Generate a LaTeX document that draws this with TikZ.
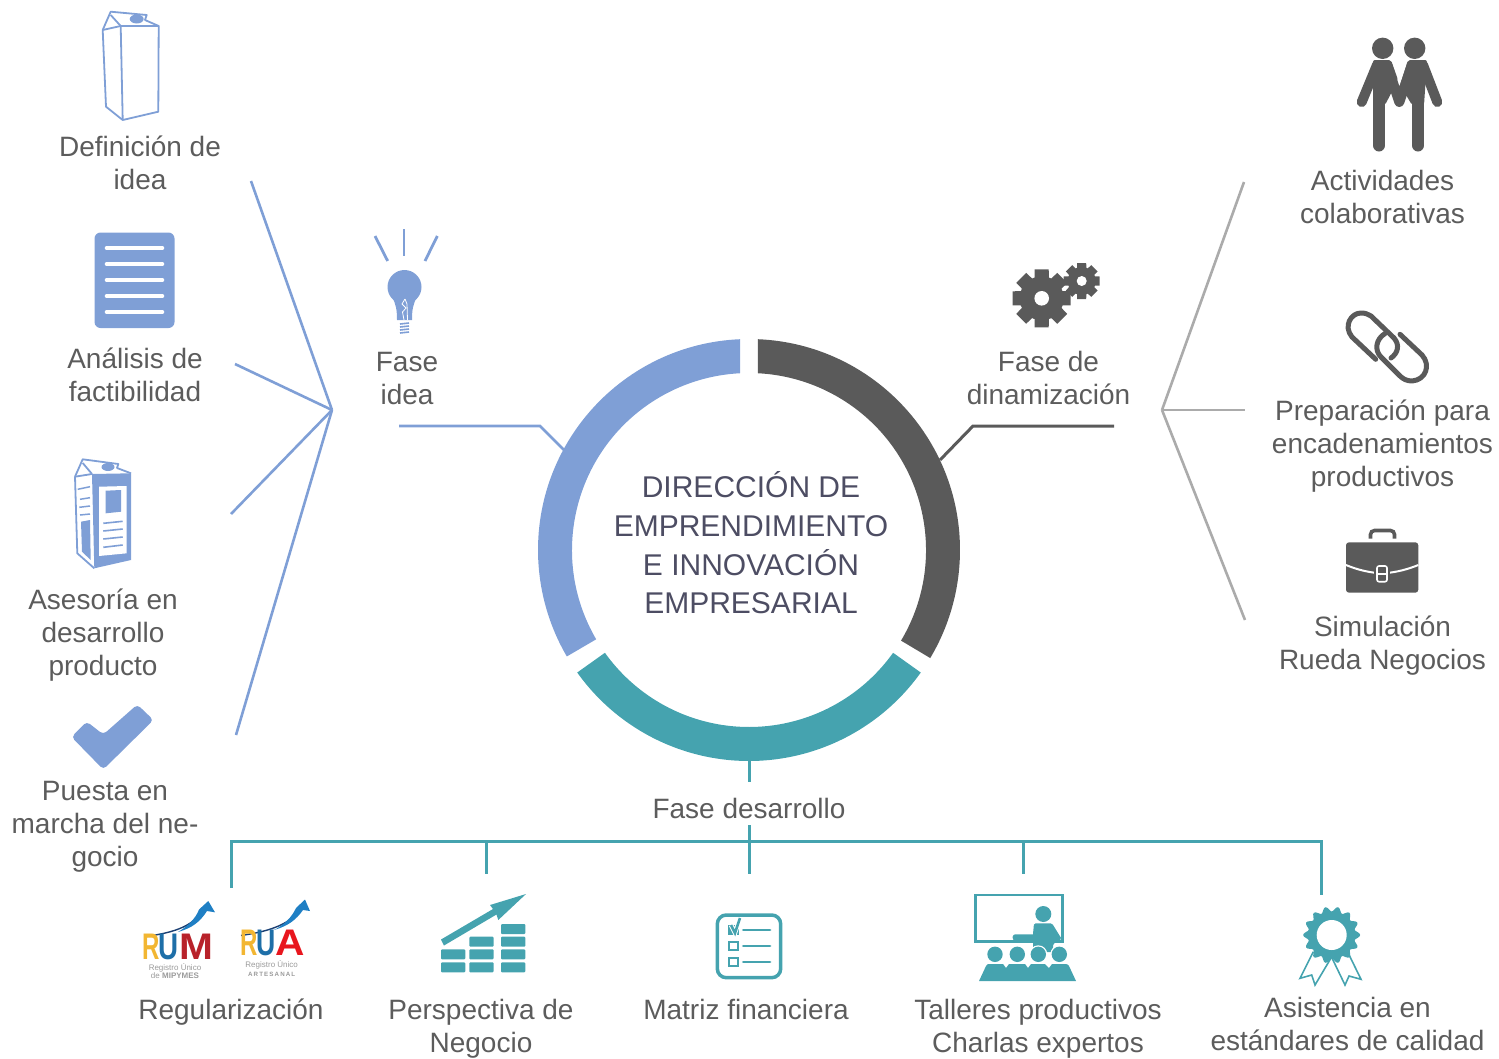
\documentclass[tikz,border=0pt]{standalone}
\usepackage{fontspec}
\usepackage{graphicx}
\setmainfont{Liberation Sans}
\newfontfamily\logofont[LetterSpace=18]{Liberation Sans Bold}
\definecolor{bluec}{HTML}{7F9FD6}
\definecolor{darkc}{HTML}{5A5A5A}
\definecolor{tealc}{HTML}{45A3AF}
\definecolor{grayl}{HTML}{ABABAB}
\definecolor{textc}{HTML}{5C5C5C}
\definecolor{titlec}{HTML}{4D4D63}
\definecolor{logoy}{HTML}{F2B632}
\definecolor{logob}{HTML}{1E6FA8}
\definecolor{logom}{HTML}{B8222A}
\definecolor{logoa}{HTML}{E8161E}
\definecolor{logoh}{HTML}{1F7FC4}
\definecolor{logot}{HTML}{1B3F73}
\tikzset{
 lab/.style={font=\fontsize{28}{33}\selectfont,text=textc,align=center,inner sep=0pt},
 titlelab/.style={font=\fontsize{30}{38.7}\selectfont,text=titlec,align=center,inner sep=0pt},
 bluelink/.style={draw=bluec,line width=2.6pt},
 graylink/.style={draw=grayl,line width=2.6pt},
 teallink/.style={draw=tealc,line width=3pt},
 darklink/.style={draw=darkc,line width=3pt},
 logoletter/.style={font=\fontsize{37}{37}\selectfont\bfseries,inner sep=0pt},
 logosmall/.style={font=\fontsize{8}{8.6}\selectfont,text=grayl!90!black,inner sep=0pt,align=center},
}
\newcommand{\gearicon}[6]{%
 \begin{scope}[shift={(#1,#2)}]
  \fill[darkc] (0,0) circle[radius=#4];
  \foreach \a in {0,45,...,315}{\fill[darkc,rotate=\a+#6] (-#5*0.55,0) -- (-#5*0.5,-#3) -- (#5*0.5,-#3) -- (#5*0.55,0) -- cycle;}
 \end{scope}}
\begin{document}
\begin{tikzpicture}[x=1pt,y=-1pt]
\useasboundingbox (0,0) rectangle (1499,1058);
% ring
\fill[bluec] (749,550) ++(92.44:211pt) arc[start angle=92.44,end angle=210.3,radius=211pt] -- ++(30.3:34pt) arc[start angle=210.3,end angle=92.91,radius=177pt] -- cycle;
\fill[darkc] (749,550) ++(87.56:211pt) arc[start angle=87.56,end angle=-30.8,radius=211pt] -- ++(149.2:34pt) arc[start angle=-30.8,end angle=87.09,radius=177pt] -- cycle;
\fill[tealc] (749,550) ++(215.5:211pt) arc[start angle=215.5,end angle=324.5,radius=211pt] -- ++(144.5:34pt) arc[start angle=324.5,end angle=215.5,radius=177pt] -- cycle;
\node[titlelab] (title) at (751,543) {DIRECCIÓN DE\\EMPRENDIMIENTO\\E INNOVACIÓN\\EMPRESARIAL};
% labels
\node[lab] (defi) at (140,162.5) {Definición de\\idea};
\node[lab] (anal) at (135,375) {Análisis de\\factibilidad};
\node[lab] (ases) at (103,635) {Asesoría en\\desarrollo\\producto};
\node[lab] (pues) at (105,826.5) {Puesta en\\marcha del ne-\\gocio};
\node[lab] (fidea) at (407,378) {Fase\\idea};
\node[lab] (fdin) at (1048.5,378) {Fase de\\dinamización};
\node[lab] (fdes) at (749,808.5) {Fase desarrollo};
\node[lab] (acti) at (1382.5,197) {Actividades\\colaborativas};
\node[lab] (prep) at (1382.5,446.5) {Preparación para\\encadenamientos\\productivos};
\node[lab] (simu) at (1382.5,645.5) {Simulación\\Rueda Negocios};
\node[lab] (regu) at (231,1012) {Regularización};
\node[lab] (pers) at (481,1028.5) {Perspectiva de\\Negocio};
\node[lab] (matr) at (746,1009) {Matriz financiera};
\node[lab] (tall) at (1038,1028.5) {Talleres productivos\\Charlas expertos};
\node[lab] (asis) at (1347.5,1024) {Asistencia en\\estándares de calidad};
% connector coordinates
\coordinate (hubL) at (332,410);
\coordinate (hubR) at (1162,410);
\coordinate (l1) at (251,181);
\coordinate (l2) at (235,364);
\coordinate (l3) at (231,514);
\coordinate (l4) at (236,735);
\coordinate (r1) at (1244,182);
\coordinate (r2) at (1245,410);
\coordinate (r3) at (1245,620);
\coordinate (ideaA) at (399,426);
\coordinate (ideaB) at (540,426);
\coordinate (ideaC) at (566,452);
\coordinate (dinA) at (1114,426);
\coordinate (dinB) at (973,426);
\coordinate (dinC) at (940,460);
\coordinate (ringB) at (749,760);
\coordinate (ringC) at (749,782);
\coordinate (busL) at (231,888);
\coordinate (busLt) at (231,841);
\coordinate (busRt) at (1321,841);
\coordinate (busR) at (1321,895);
\coordinate (d1t) at (486,841);
\coordinate (d1) at (486,874);
\coordinate (d2t) at (749,825);
\coordinate (d2) at (749,874);
\coordinate (d3t) at (1023,841);
\coordinate (d3) at (1023,874);
\foreach \e in {l1,l2,l3,l4}{\draw[bluelink] (hubL) -- (\e);}
\foreach \e in {r1,r2,r3}{\draw[graylink] (hubR) -- (\e);}
\draw[bluelink] (ideaA) -- (ideaB) -- (ideaC);
\draw[darklink] (dinA) -- (dinB) -- (dinC);
\draw[teallink] (ringB) -- (ringC);
\draw[teallink] (busL) -- (busLt) -- (busRt) -- (busR);
\draw[teallink] (d1t) -- (d1);
\draw[teallink] (d2t) -- (d2);
\draw[teallink] (d3t) -- (d3);
% carton 1
\begin{scope}[draw=bluec,line width=1.8pt,line join=round]
 \draw (120.7,26) -- (102.7,30) -- (106,106.7) -- (122.7,120) -- (158.3,111.7) -- (158.7,26) -- cycle;
 \draw (120.7,26) -- (122.7,120);
 \draw (102.7,30) -- (110.7,11.7) -- (146.7,15) -- (145,20) -- (158.7,26);
 \draw (120.7,26) -- (110.7,15);
\end{scope}
\fill[bluec] (136.7,19) ellipse[x radius=7,y radius=4.5];
% carton 2
\fill[bluec] (92,474) -- (131,473.3) -- (131,560) -- (94.3,568.3) -- cycle;
\fill[white] (99,486.7) -- (126.7,486) -- (126.7,553.3) -- (99,556) -- cycle;
\fill[bluec] (105.7,490.7) -- (121,490) -- (121,511.7) -- (105.7,513.3) -- cycle;
\foreach \ya/\yb in {523.3/521.3,531/529,539/537,547.3/545}{\draw[bluec,line width=1.6pt] (103.3,\ya) -- (122.7,\yb);}
\draw[bluec,line width=1.8pt,line join=round] (92,474) -- (75,476.7) -- (77.3,553.3) -- (94.3,568.3);
\draw[bluec,line width=1.8pt,line join=round] (75,476.7) -- (82.7,459.3) -- (118.3,464) -- (117,468) -- (131,473.3);
\draw[bluec,line width=1.8pt] (92,474) -- (82.7,463);
\fill[bluec] (108,467) ellipse[x radius=6.5,y radius=4];
\foreach \ya/\yb/\xa in {489.3/486.7/77.7,499.3/497.7/80,507.3/506/79.3,515/514/80}{\draw[bluec,line width=1.5pt] (\xa,\ya) -- (90,\yb);}
\fill[bluec] (81,521.7) -- (90,520) -- (90.7,560) -- (82,551.7) -- cycle;
% document
\fill[bluec,rounded corners=6pt] (94.5,232.5) rectangle (174.5,328);
\foreach \y in {248,264,280,296,312}{\draw[white,line width=4.6pt,line cap=round] (107,\y) -- (162,\y);}
% check mark
\fill[bluec,rounded corners=4pt] (71.5,737) -- (86.7,721.5) -- (103.3,734.5) -- (137.3,704.5) -- (153.5,720) -- (103.3,769.5) -- cycle;
% bulb
\begin{scope}[draw=bluec,line width=2.8pt]
 \draw (375,236) -- (387.7,261);
 \draw (404,229) -- (404,255.7);
 \draw (437.3,236) -- (425,261);
\end{scope}
\fill[bluec] (404.5,287) circle[radius=17];
\fill[bluec] (392,297) .. controls (396,304) and (397,310) .. (397,320) -- (412,320) .. controls (412,310) and (413,304) .. (417,297) -- cycle;
\draw[white,line width=.8pt] (405,299) -- (402,304) -- (406,308) -- (402.5,312) -- (404,320);
\draw[white,line width=.8pt] (405,299) -- (407,304) -- (407.5,320);
\foreach \y in {324,327,330,333}{\draw[bluec,line width=1.6pt] (400,\y) -- (409,\y-1);}
% gears
\gearicon{1041.7}{298.3}{29}{22}{14}{0}
\fill[white] (1041.7,298.3) circle[radius=7.3];
\gearicon{1081.7}{281}{18}{14}{9}{0}
\fill[white] (1081.7,281) circle[radius=5];
% people
\fill[darkc] (1382.7,48.3) circle[radius=10.7];
\fill[darkc] (1414.7,48.3) circle[radius=10.7];
\begin{scope}[draw=darkc,line width=10pt,line cap=round,line join=round]
 \draw (1377,65) -- (1361.7,102);
 \draw (1387,65) -- (1399.3,102) -- (1412,65);
 \draw (1423,65) -- (1437.3,102);
\end{scope}
\fill[darkc,rounded corners=2pt] (1373,60) -- (1391,60) -- (1398,80) -- (1385,105) -- (1373,105) -- cycle;
\fill[darkc,rounded corners=2pt] (1408,60) -- (1427,60) -- (1424,105) -- (1412,105) -- (1400,85) -- cycle;
\draw[darkc,line width=12pt,line cap=round] (1379,90) -- (1379,145.5);
\draw[darkc,line width=12pt,line cap=round] (1418,90) -- (1418,145.5);
% link
\begin{scope}[draw=darkc,line width=5pt,line cap=round,line join=round]
 \draw (1375.7,359.3) -- (1352,337) .. controls (1343,326) and (1351,313) .. (1361,313) .. controls (1365,313) and (1368,314) .. (1371,316) -- (1394,338) .. controls (1400,345) and (1398,353) .. (1391,358);
 \draw (1400,334.3) -- (1422,355) .. controls (1431,365) and (1426,380) .. (1412,381) .. controls (1407,381) and (1403,379) .. (1400,376) -- (1381,357) .. controls (1374,350) and (1376,339) .. (1385,333.5);
\end{scope}
% briefcase
\fill[darkc,rounded corners=3pt] (1346,542.3) rectangle (1418.3,592.7);
\draw[darkc,line width=3.6pt,rounded corners=4pt] (1370.5,538.5) -- (1370.5,530.5) -- (1394.5,530.5) -- (1394.5,538.5);
\draw[white,line width=2pt] (1346,565) .. controls (1358,570) and (1368,572) .. (1377,573);
\draw[white,line width=2pt] (1387,573) .. controls (1396,572) and (1406,570) .. (1418.3,565);
\draw[darkc,line width=3pt,fill=darkc,rounded corners=2pt] (1375.7,565) rectangle (1388.3,582.7);
\draw[white,line width=1.6pt,rounded corners=2pt] (1377,566) rectangle (1387,581.7);
\draw[white,line width=1.4pt] (1377,574) -- (1387,574);
% logos
\draw[logot,line width=1.4pt] (145,936.7) .. controls (170,933) and (192,928) .. (203,910);
\fill[logoh] (208.3,901) -- (215,912.3) -- (207,911) .. controls (200,922) and (192,928) .. (178,932) .. controls (188,926) and (196,918) .. (199,909.5) -- cycle;
\node[logoletter,text=logoy,anchor=west] (rumR) at (142.5,947) {\scalebox{.65}[1]{R}};
\node[logoletter,text=logob,anchor=west] (rumU) at (158,947) {\scalebox{.75}[1]{U}};
\node[logoletter,text=logom,anchor=west] (rumM) at (179,947) {\scalebox{1.1}[1]{M}};
\node[logosmall] (rumt) at (175,971) {Registro Único\\de {\bfseries MIPYMES}};
\draw[logot,line width=1.4pt] (241,935.5) .. controls (265,932) and (288,926) .. (300,910);
\fill[logoh] (305,899.5) -- (310,911) -- (303,910) .. controls (296,920) and (288,926) .. (274,930) .. controls (284,925) and (292,917) .. (296,908) -- cycle;
\node[logoletter,text=logoy,anchor=west] (ruaR) at (240,943) {\scalebox{.65}[1]{R}};
\node[logoletter,text=logob,anchor=west] (ruaU) at (256,943) {\scalebox{.72}[1]{U}};
\node[logoletter,text=logoa,anchor=west] (ruaA) at (275,943) {\scalebox{1.1}[1]{A}};
\node[logosmall] (ruat) at (271.7,968.5) {Registro Único\\{\fontsize{6.2}{6}\logofont ARTESANAL}};
% chart
\foreach \x/\ys in {441/{962.3,949.3},469.3/{962.3,949.3,936.7},501/{962.3,949.3,936.7,924}}{
 \foreach \y in \ys {\fill[tealc,rounded corners=1pt] (\x,\y) rectangle ++(24.3,10);}}
\fill[tealc] (441,939.5) -- (493,909) -- (490,905) -- (526,894) -- (498.3,920) -- (496.5,914.5) -- (444,945.5) -- cycle;
% checklist
\draw[tealc,line width=3.5pt,rounded corners=9pt] (717.3,915) rectangle (780.7,977.7);
\foreach \y in {930,946,962}{
 \draw[tealc,line width=2.8pt] (729,\y-4) rectangle (738,\y+4);
 \draw[tealc,line width=2.8pt,line cap=round] (743.3,\y) -- (770,\y);}
\fill[tealc] (729,926) rectangle (738,934);
\draw[white,line width=4.5pt] (731,925) -- (735,933) -- (740,918);
\draw[tealc,line width=2.6pt] (731,925) -- (735,933) -- (740,918);
% teacher
\draw[tealc,line width=2.5pt] (975.7,895) rectangle (1062.7,941.7);
\fill[tealc] (1043.3,914) circle[radius=8];
\fill[tealc,rounded corners=1.5pt] (1034,923.3) -- (1052,923.3) -- (1061.7,939) -- (1053,944) -- (1053,952) -- (1033,952) -- (1033,934) -- cycle;
\fill[tealc,rounded corners=2.5pt] (1012.7,934.3) rectangle (1035,940.5);
\foreach \x in {995,1017.3,1038.3,1059.3}{
 \fill[white] (\x,954.3) circle[radius=9];
 \fill[tealc] (\x,954.3) circle[radius=7.7];}
\fill[tealc] (979,981) -- (986,966) .. controls (987,964) and (988,964) .. (990,964) -- (1003,964) -- (1006,968) -- (1009,964) -- (1025,964) -- (1028,968) -- (1031,964) -- (1045,964) -- (1049,968) -- (1052,964) -- (1066,964) .. controls (1068,964) and (1068,965) .. (1069,966) -- (1076,981) -- cycle;
% medal
\draw[tealc,line width=1.6pt,line join=miter] (1313.3,951.7) -- (1300,978.3) -- (1311.7,975) -- (1315,985) -- (1331,958);
\draw[tealc,line width=1.6pt,line join=miter] (1348.3,953.3) -- (1361,979.3) -- (1349,976) -- (1345,985) -- (1332,958);
\fill[tealc] plot[domain=0:360,samples=113,smooth] ({1331.7+(26+2.5*cos(14*\x))*cos(\x)},{935+(26+2.5*cos(14*\x))*sin(\x)}) -- cycle;
\fill[white] (1331.7,935) circle[radius=15];
\end{tikzpicture}
\end{document}
